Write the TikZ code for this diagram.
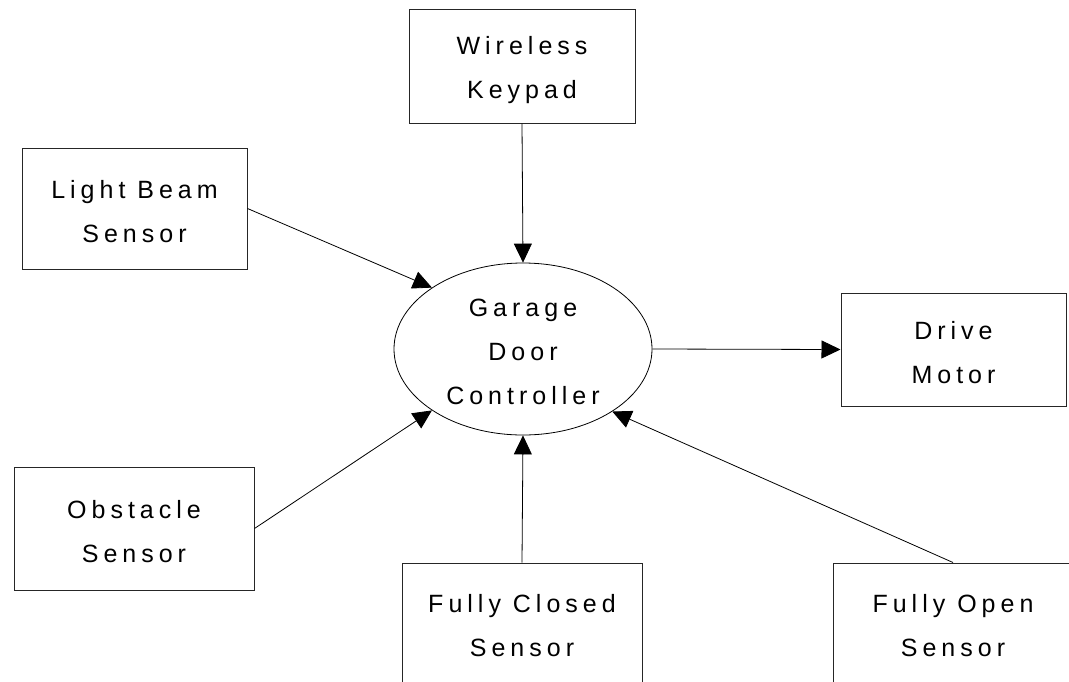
\documentclass[tikz,border=0pt]{standalone}
\usepackage{fontspec}
\newfontfamily\labelfont{Liberation Sans}[LetterSpace=20]
\usetikzlibrary{arrows.meta,shapes.geometric}

\begin{document}
\begin{tikzpicture}[x=1pt,y=-1pt,
  caption/.style={align=center, inner sep=0pt, yshift=-3pt,
    font=\labelfont\fontsize{25}{44}\selectfont},
  block/.style={draw=black!85, line width=1pt, inner sep=0pt,
    minimum width=240pt, minimum height=123pt},
  hub/.style={ellipse, draw, line width=0.8pt, inner sep=0pt,
    minimum width=258pt, minimum height=172pt},
  flow/.style={-{Triangle[length=19pt,width=18pt]}, line width=0.8pt}]
\useasboundingbox (0,0) rectangle (1069,681);
\clip (0,0) rectangle (1069,681);

% controller in the middle
\node[hub, label={[caption]center:{Garage\\Door\\Controller}}] (ctrl) at (523,349) {};

% surrounding devices
\node[block, minimum width=226pt, minimum height=114pt,
  label={[caption, yshift=-1.5pt]center:{Wireless\\Keypad}}] (kp) at (522,66) {};
\node[block, minimum width=225pt, minimum height=121pt,
  label={[caption]center:{Light Beam\\Sensor}}] (lb) at (134.5,208.5) {};
\node[block, minimum width=225pt, minimum height=113pt,
  label={[caption]center:{Drive\\Motor}}] (dm) at (953.5,349.5) {};
\node[block, label={[caption]center:{Obstacle\\Sensor}}] (ob) at (134,528.5) {};
\node[block, label={[caption, yshift=2pt]center:{Fully Closed\\Sensor}}] (fc) at (522,624.5) {};
\node[block, label={[caption, yshift=2pt]center:{Fully Open\\Sensor}}] (fo) at (953,624.5) {};

% signal flows
\draw[flow] (kp.south) -- (ctrl.north);
\draw[flow] (lb.east) -- (ctrl.146.6);
\draw[flow] (ob.east) -- (ctrl.214.1);
\draw[flow] (fc.north) -- (ctrl.south);
\draw[flow] (fo.north) -- (ctrl.325.6);
\draw[flow] (ctrl.east) -- (dm.west);
\end{tikzpicture}
\end{document}
